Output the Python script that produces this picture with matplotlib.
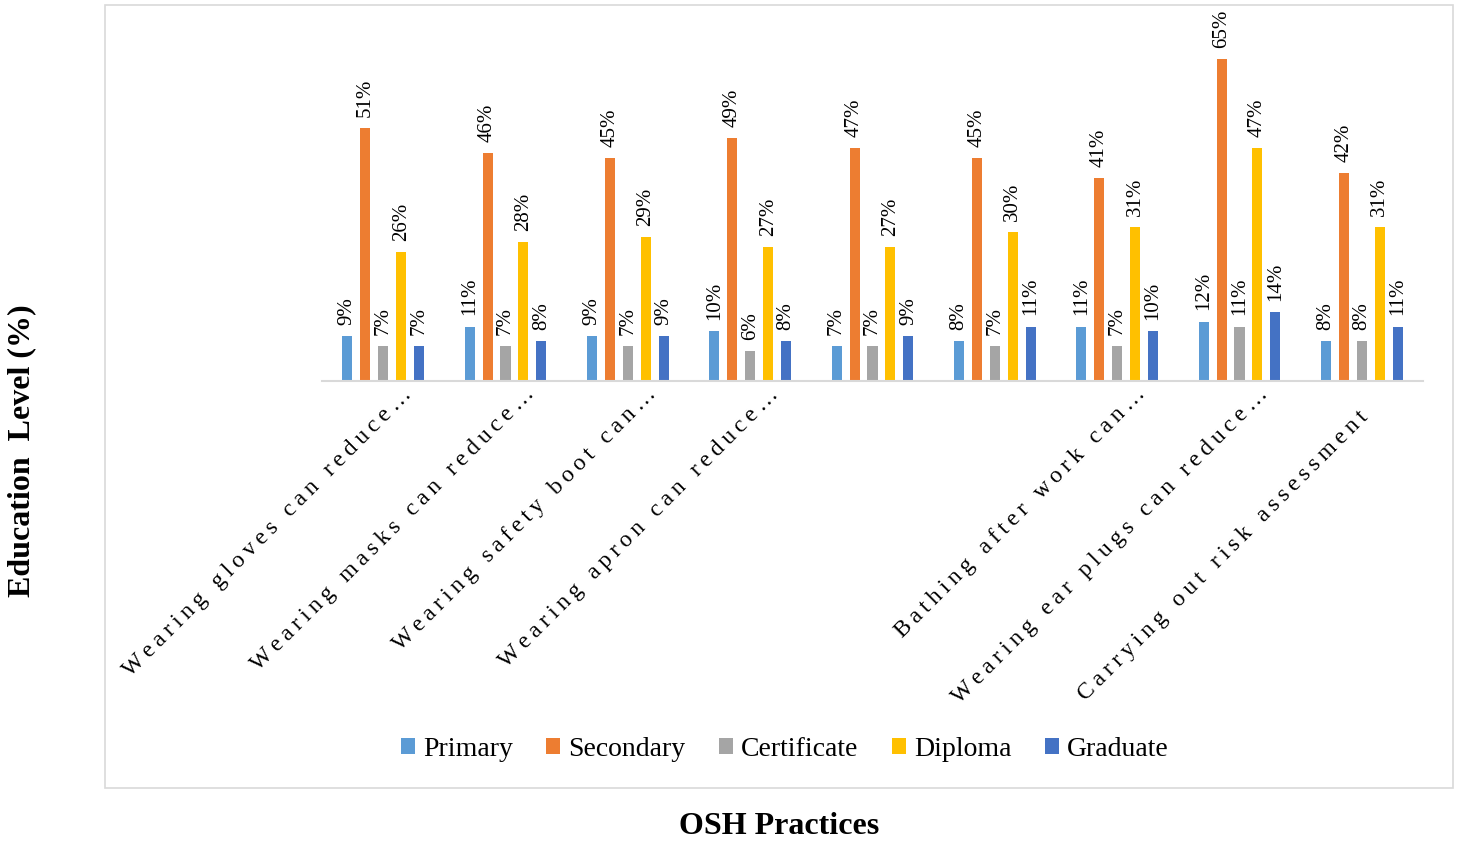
import numpy as np
import matplotlib.pyplot as plt
from matplotlib.patches import Rectangle

plt.rcParams['font.family'] = ['Liberation Serif', 'DejaVu Serif']

# <------------------------------- Datos --------------------------------->
practices = ['Wearing gloves can reduce…', 'Wearing masks can reduce…',
             'Wearing safety boot can…', 'Wearing apron can reduce…',
             '', '', 'Bathing after work can…',
             'Wearing ear plugs can reduce…', 'Carrying out risk assessment   ']
series = ['Primary', 'Secondary', 'Certificate', 'Diploma', 'Graduate']
primary = [9, 11, 9, 10, 7, 8, 11, 12, 8]
secondary = [51, 46, 45, 49, 47, 45, 41, 65, 42]
certificate = [7, 7, 7, 6, 7, 7, 7, 11, 8]
diploma = [26, 28, 29, 27, 27, 30, 31, 47, 31]
graduate = [7, 8, 9, 8, 9, 11, 10, 14, 11]
colors = ['#5B9BD5', '#ED7D31', '#A5A5A5', '#FFC000', '#4472C4']

values = [primary, secondary, certificate, diploma, graduate]

# <------------------------------- Figura -------------------------------->
W, H = 1458, 841
fig = plt.figure(figsize=(W / 100, H / 100), dpi=100)
ymax = 70
px_per = 4.954
top_px = 381 - ymax * px_per
ax = fig.add_axes([322 / W, 1 - 381 / H, (1423 - 322) / W, (381 - top_px) / H])

x = np.arange(len(practices))
step = 0.147
width = 0.082
for i, (name, vals) in enumerate(zip(series, values)):
    pos = x + (i - 2) * step
    ax.bar(pos, vals, width, color=colors[i], label=name, zorder=2)
    for xp, v in zip(pos, vals):
        ax.annotate(f'{v}%', xy=(xp, v), xytext=(0, 8), textcoords='offset points',
                    rotation=90, ha='center', va='bottom', fontsize=15)

ax.set_xlim(-0.5, len(practices) - 0.5)
ax.set_ylim(0, ymax)
for s in ['top', 'right', 'left']:
    ax.spines[s].set_visible(False)
ax.spines['bottom'].set_color('#D9D9D9')
ax.spines['bottom'].set_linewidth(1.5)
ax.set_yticks([])
ax.set_xticks([])

# etiquetas rotadas con espaciado entre letras
for xi, lab in zip(x, practices):
    if not lab:
        continue
    spaced = '\u2009'.join(lab)
    ax.annotate(spaced, xy=(xi, 0), xycoords=('data', 'axes fraction'),
                xytext=(13, -2), textcoords='offset points', rotation=45,
                rotation_mode='anchor', ha='right', va='top', fontsize=17)

# borde del area del grafico
fig.add_artist(Rectangle((105 / W, 1 - 788 / H), (1453 - 105) / W, (788 - 5) / H,
                         transform=fig.transFigure, fill=False,
                         edgecolor='#D9D9D9', linewidth=1.2))

fig.legend(loc='center', bbox_to_anchor=(785 / W, 1 - 749 / H), ncol=5,
           frameon=False, fontsize=20, handlelength=0.5, handleheight=0.5,
           handletextpad=0.3, columnspacing=1.2)

fig.text(22 / W, 1 - 451 / H, 'Education  Level (%)', rotation=90, ha='center',
         va='center', fontsize=23, fontweight='bold')
fig.text(779 / W, 1 - 826 / H, 'OSH Practices', ha='center', va='center',
         fontsize=23, fontweight='bold')

fig.savefig('out.png', dpi=100)
